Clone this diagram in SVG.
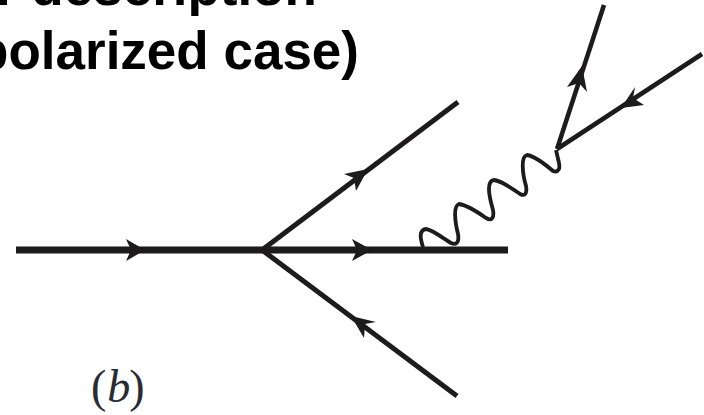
<svg xmlns="http://www.w3.org/2000/svg" width="704" height="415" viewBox="0 0 704 415">
<style>
.title{font-family:"Liberation Sans",Arial,sans-serif;font-weight:700;font-size:53px;fill:#000;text-anchor:end}
.line{stroke:#1c1a1b;fill:none;stroke-linecap:butt}
.head{fill:#1c1a1b}
.label{font-family:"Liberation Serif","Times New Roman",serif;font-size:46px;fill:#2a2a33}
</style>
<defs><filter id="soft" x="-5%" y="-5%" width="110%" height="110%"><feGaussianBlur stdDeviation="0.7"/></filter></defs>
<rect width="704" height="415" fill="#fff"/>
<g id="title">
<text class="title" x="317" y="5">r description</text>
<text class="title" x="359" y="69">polarized case)</text>
</g>
<g id="connectors" filter="url(#soft)">
<line class="line" stroke-width="7" x1="16" y1="250" x2="508" y2="250"/>
<line class="line" stroke-width="5" x1="262" y1="250" x2="458" y2="102"/>
<line class="line" stroke-width="5" x1="262" y1="250" x2="457" y2="396"/>
<line class="line" stroke-width="4.5" x1="557" y1="149" x2="604" y2="5"/>
<line class="line" stroke-width="4.5" x1="557" y1="149" x2="702" y2="54"/>
<path class="line" stroke-width="3.8" d="M423 247C420 238 419 230 426 229C433 230 444 239 451 243C458 246 459 240 458 234C455 222 453 206 459 204C466 205 479 213 486 218C493 222 494 216 493 210C489 196 486 181 494 180C502 181 513 189 520 194C526 197 527 192 526 186C522 172 521 156 527 155C534 156 546 165 553 171C559 173 560 168 559 163L556 150"/>
<polygon class="head" points="145,250 126,239 131,250 126,261"/>
<polygon class="head" points="372,250 352,239 357,250 352,261"/>
<polygon class="head" points="368,169 344,174 354,178 356,191"/>
<polygon class="head" points="351,316 376,322 365,324 364,338"/>
<polygon class="head" points="582,66 567,87 579,83 587,92"/>
<polygon class="head" points="621,108 635,87 633,98 644,105"/>
</g>
<g id="label-b"><text class="label" x="91" y="402">(<tspan font-style="italic" dx="1">b</tspan><tspan dx="-1">)</tspan></text></g>
</svg>
